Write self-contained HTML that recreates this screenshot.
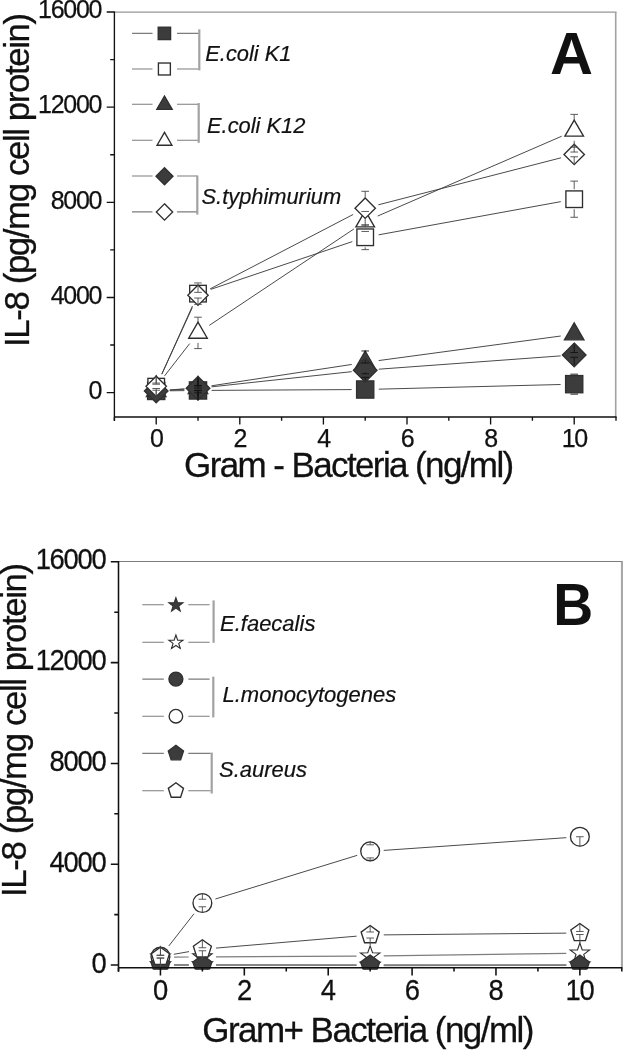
<!DOCTYPE html>
<html><head><meta charset="utf-8"><title>IL-8 figure</title>
<style>html,body{margin:0;padding:0;background:#fff}svg{display:block}</style>
</head><body>
<svg width="623" height="1050" viewBox="0 0 623 1050" font-family="'Liberation Sans', sans-serif" fill="#111">
<rect width="623" height="1050" fill="#fff"/>
<path d="M114.4 12.1H616.5" stroke="#969696" stroke-width="1.3" fill="none"/>
<path d="M615.7 12V417" stroke="#a2a2a2" stroke-width="1.6" fill="none"/>
<clipPath id="ca"><rect x="114.4" y="12" width="501.6" height="406.6"/></clipPath>
<g clip-path="url(#ca)">
<line x1="169.80" y1="390.78" x2="184.40" y2="390.61" stroke="#404040" stroke-width="0.95"/>
<line x1="211.60" y1="390.38" x2="351.60" y2="389.59" stroke="#404040" stroke-width="0.95"/>
<line x1="378.80" y1="389.16" x2="560.60" y2="384.50" stroke="#404040" stroke-width="0.95"/>
<rect x="147.60" y="382.33" width="17.20" height="17.20" fill="#3c3c3c" stroke="#303030" stroke-width="1.35"/>
<rect x="189.40" y="381.86" width="17.20" height="17.20" fill="#3c3c3c" stroke="#303030" stroke-width="1.35"/>
<rect x="356.60" y="380.91" width="17.20" height="17.20" fill="#3c3c3c" stroke="#303030" stroke-width="1.35"/>
<rect x="565.60" y="375.56" width="17.20" height="17.20" fill="#3c3c3c" stroke="#303030" stroke-width="1.35"/>
<line x1="161.77" y1="374.25" x2="192.43" y2="306.05" stroke="#404040" stroke-width="0.95"/>
<line x1="210.89" y1="289.30" x2="352.31" y2="241.61" stroke="#404040" stroke-width="0.95"/>
<line x1="378.58" y1="234.83" x2="560.82" y2="201.64" stroke="#404040" stroke-width="0.95"/>
<rect x="147.90" y="378.35" width="16.60" height="16.60" fill="#fff" stroke="#2e2e2e" stroke-width="1.35"/>
<rect x="189.70" y="285.34" width="16.60" height="16.60" fill="#fff" stroke="#2e2e2e" stroke-width="1.35"/>
<rect x="356.90" y="228.97" width="16.60" height="16.60" fill="#fff" stroke="#2e2e2e" stroke-width="1.35"/>
<rect x="565.90" y="190.91" width="16.60" height="16.60" fill="#fff" stroke="#2e2e2e" stroke-width="1.35"/>
<line x1="169.76" y1="389.93" x2="184.44" y2="388.85" stroke="#404040" stroke-width="0.95"/>
<line x1="211.45" y1="385.80" x2="351.75" y2="364.44" stroke="#404040" stroke-width="0.95"/>
<line x1="378.68" y1="360.57" x2="560.72" y2="336.02" stroke="#404040" stroke-width="0.95"/>
<polygon points="156.20,379.68 146.45,396.56 165.95,396.56" fill="#3c3c3c" stroke="#303030" stroke-width="1.35" stroke-linejoin="miter"/>
<polygon points="198.00,376.58 188.25,393.47 207.75,393.47" fill="#3c3c3c" stroke="#303030" stroke-width="1.35" stroke-linejoin="miter"/>
<polygon points="365.20,351.13 355.45,368.02 374.95,368.02" fill="#3c3c3c" stroke="#303030" stroke-width="1.35" stroke-linejoin="miter"/>
<polygon points="574.20,322.94 564.45,339.83 583.95,339.83" fill="#3c3c3c" stroke="#303030" stroke-width="1.35" stroke-linejoin="miter"/>
<line x1="164.55" y1="375.92" x2="189.65" y2="343.63" stroke="#404040" stroke-width="0.95"/>
<line x1="209.32" y1="325.35" x2="353.88" y2="228.99" stroke="#404040" stroke-width="0.95"/>
<line x1="377.68" y1="216.04" x2="561.72" y2="136.21" stroke="#404040" stroke-width="0.95"/>
<polygon points="156.20,375.91 146.90,392.02 165.50,392.02" fill="#fff" stroke="#2e2e2e" stroke-width="1.35" stroke-linejoin="miter"/>
<polygon points="198.00,322.15 188.70,338.26 207.30,338.26" fill="#fff" stroke="#2e2e2e" stroke-width="1.35" stroke-linejoin="miter"/>
<polygon points="365.20,210.71 355.90,226.82 374.50,226.82" fill="#fff" stroke="#2e2e2e" stroke-width="1.35" stroke-linejoin="miter"/>
<polygon points="574.20,120.06 564.90,136.16 583.50,136.16" fill="#fff" stroke="#2e2e2e" stroke-width="1.35" stroke-linejoin="miter"/>
<line x1="169.77" y1="390.13" x2="184.43" y2="389.19" stroke="#404040" stroke-width="0.95"/>
<line x1="211.52" y1="386.85" x2="351.68" y2="371.66" stroke="#404040" stroke-width="0.95"/>
<line x1="378.76" y1="369.20" x2="560.64" y2="355.89" stroke="#404040" stroke-width="0.95"/>
<polygon points="156.20,379.21 168.00,391.01 156.20,402.81 144.40,391.01" fill="#3c3c3c" stroke="#303030" stroke-width="1.35" stroke-linejoin="miter"/>
<polygon points="198.00,376.52 209.80,388.32 198.00,400.12 186.20,388.32" fill="#3c3c3c" stroke="#303030" stroke-width="1.35" stroke-linejoin="miter"/>
<polygon points="365.20,358.39 377.00,370.19 365.20,381.99 353.40,370.19" fill="#3c3c3c" stroke="#303030" stroke-width="1.35" stroke-linejoin="miter"/>
<polygon points="574.20,343.10 586.00,354.90 574.20,366.70 562.40,354.90" fill="#3c3c3c" stroke="#303030" stroke-width="1.35" stroke-linejoin="miter"/>
<line x1="161.87" y1="374.00" x2="192.33" y2="307.55" stroke="#404040" stroke-width="0.95"/>
<line x1="210.06" y1="288.91" x2="353.14" y2="214.48" stroke="#404040" stroke-width="0.95"/>
<line x1="378.37" y1="204.81" x2="561.03" y2="157.81" stroke="#404040" stroke-width="0.95"/>
<polygon points="156.20,376.17 166.40,386.37 156.20,396.57 146.00,386.37" fill="#fff" stroke="#2e2e2e" stroke-width="1.35" stroke-linejoin="miter"/>
<polygon points="198.00,284.99 208.20,295.19 198.00,305.39 187.80,295.19" fill="#fff" stroke="#2e2e2e" stroke-width="1.35" stroke-linejoin="miter"/>
<polygon points="365.20,198.00 375.40,208.20 365.20,218.40 355.00,208.20" fill="#fff" stroke="#2e2e2e" stroke-width="1.35" stroke-linejoin="miter"/>
<polygon points="574.20,144.22 584.40,154.42 574.20,164.62 564.00,154.42" fill="#fff" stroke="#2e2e2e" stroke-width="1.35" stroke-linejoin="miter"/>
<path d="M198.00 380.46V388.08M194.20 388.08H201.80M198.00 400.46V392.84M194.20 392.84H201.80" stroke="#111" stroke-width="0.9" fill="none"/>
<path d="M574.20 374.16V374.16M570.40 374.16H578.00M574.20 394.16V394.15M570.40 394.15H578.00" stroke="#111" stroke-width="0.9" fill="none"/>
<path d="M156.20 376.65V383.09M152.40 383.09H160.00M156.20 396.65V390.22M152.40 390.22H160.00" stroke="#4a4a4a" stroke-width="0.9" fill="none"/>
<path d="M198.00 283.64V282.94M194.20 282.94H201.80M198.00 303.64V304.35M194.20 304.35H201.80" stroke="#4a4a4a" stroke-width="0.9" fill="none"/>
<path d="M365.20 227.27V224.90M361.40 224.90H369.00M365.20 247.27V249.64M361.40 249.64H369.00" stroke="#4a4a4a" stroke-width="0.9" fill="none"/>
<path d="M574.20 189.21V181.13M570.40 181.13H578.00M574.20 209.21V217.29M570.40 217.29H578.00" stroke="#4a4a4a" stroke-width="0.9" fill="none"/>
<path d="M198.00 377.84V385.46M194.20 385.46H201.80M198.00 397.84V390.22M194.20 390.22H201.80" stroke="#111" stroke-width="0.9" fill="none"/>
<path d="M365.20 352.39V350.97M361.40 350.97H369.00M365.20 372.39V373.81M361.40 373.81H369.00" stroke="#111" stroke-width="0.9" fill="none"/>
<path d="M198.00 322.89V317.19M194.20 317.19H201.80M198.00 342.89V348.59M194.20 348.59H201.80" stroke="#4a4a4a" stroke-width="0.9" fill="none"/>
<path d="M365.20 211.45V211.46M361.40 211.46H369.00M365.20 231.45V231.44M361.40 231.44H369.00" stroke="#4a4a4a" stroke-width="0.9" fill="none"/>
<path d="M574.20 120.79V114.38M570.40 114.38H578.00M574.20 140.79V147.21M570.40 147.21H578.00" stroke="#4a4a4a" stroke-width="0.9" fill="none"/>
<path d="M198.00 378.32V385.94M194.20 385.94H201.80M198.00 398.32V390.70M194.20 390.70H201.80" stroke="#111" stroke-width="0.9" fill="none"/>
<path d="M365.20 360.19V363.06M361.40 363.06H369.00M365.20 380.19V377.33M361.40 377.33H369.00" stroke="#111" stroke-width="0.9" fill="none"/>
<path d="M574.20 344.90V352.52M570.40 352.52H578.00M574.20 364.90V357.28M570.40 357.28H578.00" stroke="#111" stroke-width="0.9" fill="none"/>
<path d="M156.20 376.37V384.23M152.40 384.23H160.00M156.20 396.37V388.51M152.40 388.51H160.00" stroke="#4a4a4a" stroke-width="0.9" fill="none"/>
<path d="M198.00 285.19V292.34M194.20 292.34H201.80M198.00 305.19V298.04M194.20 298.04H201.80" stroke="#4a4a4a" stroke-width="0.9" fill="none"/>
<path d="M365.20 198.20V191.31M361.40 191.31H369.00M365.20 218.20V225.09M361.40 225.09H369.00" stroke="#4a4a4a" stroke-width="0.9" fill="none"/>
<path d="M574.20 144.42V152.04M570.40 152.04H578.00M574.20 164.42V156.79M570.40 156.79H578.00" stroke="#4a4a4a" stroke-width="0.9" fill="none"/>
</g>
<path d="M114.4 11.4V421M113.80000000000001 417H616.6" stroke="#111" stroke-width="1.35" fill="none"/>
<path d="M106.70 392.60H114.4M110.20 345.03H114.4M106.70 297.45H114.4M110.20 249.88H114.4M106.70 202.30H114.4M110.20 154.73H114.4M106.70 107.15H114.4M110.20 59.58H114.4M106.70 12.00H114.4M114.40 417V420.80M156.20 417V424.60M198.00 417V420.80M239.80 417V424.60M281.60 417V420.80M323.40 417V424.60M365.20 417V420.80M407.00 417V424.60M448.80 417V420.80M490.60 417V424.60M532.40 417V420.80M574.20 417V424.60M616.00 417V420.80" stroke="#111" stroke-width="1.35" fill="none"/>
<text transform="translate(88.60 398.80)" font-size="25.0" letter-spacing="-1.250" stroke="#111" stroke-width="0.25">0</text>
<text transform="translate(50.65 303.65)" font-size="25.0" letter-spacing="-1.250" stroke="#111" stroke-width="0.25">4000</text>
<text transform="translate(50.65 208.50)" font-size="25.0" letter-spacing="-1.250" stroke="#111" stroke-width="0.25">8000</text>
<text transform="translate(38.00 113.35)" font-size="25.0" letter-spacing="-1.250" stroke="#111" stroke-width="0.25">12000</text>
<text transform="translate(38.00 18.20)" font-size="25.0" letter-spacing="-1.250" stroke="#111" stroke-width="0.25">16000</text>
<text transform="translate(149.95 447.00)" font-size="25.0" letter-spacing="-1.250" stroke="#111" stroke-width="0.25">0</text>
<text transform="translate(233.55 447.00)" font-size="25.0" letter-spacing="-1.250" stroke="#111" stroke-width="0.25">2</text>
<text transform="translate(317.15 447.00)" font-size="25.0" letter-spacing="-1.250" stroke="#111" stroke-width="0.25">4</text>
<text transform="translate(400.75 447.00)" font-size="25.0" letter-spacing="-1.250" stroke="#111" stroke-width="0.25">6</text>
<text transform="translate(484.35 447.00)" font-size="25.0" letter-spacing="-1.250" stroke="#111" stroke-width="0.25">8</text>
<text transform="translate(561.63 447.00)" font-size="25.0" letter-spacing="-1.250" stroke="#111" stroke-width="0.25">10</text>
<text transform="translate(184.10 476.60) scale(0.9830 1)" font-size="35.60528992878942" letter-spacing="-1.638" stroke="#111" stroke-width="0.3">Gram - Bacteria (ng/ml)</text>
<text transform="translate(29.10 347.00) rotate(-90)" font-size="34.8" letter-spacing="-1.390" stroke="#111" stroke-width="0.3">IL-8 (pg/mg cell protein)</text>
<text transform="translate(549.9 73.8) scale(1.0 1)" font-size="59.5" font-weight="bold">A</text>
<path d="M132 33.4H152.5M177 33.4H198.5" stroke="#7c7c7c" stroke-width="1.1"/>
<rect x="158.21" y="27.21" width="12.38" height="12.38" fill="#3c3c3c" stroke="#303030" stroke-width="1.35"/>
<path d="M132 69.0H152.5M177 69.0H198.5" stroke="#7c7c7c" stroke-width="1.1"/>
<rect x="158.42" y="63.02" width="11.95" height="11.95" fill="#fff" stroke="#2e2e2e" stroke-width="1.35"/>
<path d="M132 104.2H152.5M177 104.2H198" stroke="#7c7c7c" stroke-width="1.1"/>
<polygon points="164.50,96.01 156.80,109.35 172.20,109.35" fill="#3c3c3c" stroke="#303030" stroke-width="1.35" stroke-linejoin="miter"/>
<path d="M132 140.2H152.5M177 140.2H198" stroke="#7c7c7c" stroke-width="1.1"/>
<polygon points="164.50,132.31 157.06,145.20 171.94,145.20" fill="#fff" stroke="#2e2e2e" stroke-width="1.35" stroke-linejoin="miter"/>
<path d="M132 176.0H152.5M177 176.0H197.5" stroke="#7c7c7c" stroke-width="1.1"/>
<polygon points="164.50,167.70 173.00,176.20 164.50,184.70 156.00,176.20" fill="#3c3c3c" stroke="#303030" stroke-width="1.35" stroke-linejoin="miter"/>
<path d="M132 211.9H152.5M177 211.9H197.5" stroke="#7c7c7c" stroke-width="1.1"/>
<polygon points="164.50,203.84 172.66,212.00 164.50,220.16 156.34,212.00" fill="#fff" stroke="#2e2e2e" stroke-width="1.35" stroke-linejoin="miter"/>
<path d="M199.3 29.4V70.4" stroke="#a2a2a2" stroke-width="2.2"/>
<path d="M198.7 103V142.8" stroke="#a2a2a2" stroke-width="2.2"/>
<path d="M197.3 175.6V214.6" stroke="#a2a2a2" stroke-width="2.2"/>
<text x="205.3" y="60.6" font-size="21.85" font-style="italic" stroke="#111" stroke-width="0.2">E.coli K1</text>
<text x="207.0" y="133.1" font-size="21.85" font-style="italic" stroke="#111" stroke-width="0.2">E.coli K12</text>
<text x="201.5" y="203.6" font-size="21.85" font-style="italic" stroke="#111" stroke-width="0.2">S.typhimurium</text>
<path d="M118.5 561.5H622.8" stroke="#7c7c7c" stroke-width="1.1" fill="none"/>
<path d="M622.0 561.5V967.8" stroke="#a8a8a8" stroke-width="2.2" fill="none"/>
<clipPath id="cb"><rect x="118.5" y="561.5" width="503.29999999999995" height="407.9"/></clipPath>
<g clip-path="url(#cb)">
<line x1="174.04" y1="965.00" x2="188.78" y2="965.00" stroke="#7d7d7d" stroke-width="1.3"/>
<line x1="215.98" y1="965.04" x2="356.55" y2="965.46" stroke="#7d7d7d" stroke-width="1.3"/>
<line x1="383.75" y1="965.49" x2="566.26" y2="965.27" stroke="#7d7d7d" stroke-width="1.3"/>
<polygon points="160.44,954.40 162.93,961.57 170.52,961.72 164.47,966.31 166.67,973.58 160.44,969.24 154.21,973.58 156.41,966.31 150.36,961.72 157.95,961.57" fill="#3c3c3c" stroke="#303030" stroke-width="1.1" stroke-linejoin="miter"/>
<polygon points="202.38,954.40 204.88,961.57 212.46,961.72 206.42,966.31 208.61,973.58 202.38,969.24 196.15,973.58 198.35,966.31 192.30,961.72 199.89,961.57" fill="#3c3c3c" stroke="#303030" stroke-width="1.1" stroke-linejoin="miter"/>
<polygon points="370.15,954.90 372.64,962.07 380.23,962.23 374.18,966.81 376.38,974.08 370.15,969.74 363.92,974.08 366.12,966.81 360.07,962.23 367.66,962.07" fill="#3c3c3c" stroke="#303030" stroke-width="1.1" stroke-linejoin="miter"/>
<polygon points="579.86,954.65 582.35,961.82 589.94,961.98 583.89,966.56 586.09,973.83 579.86,969.49 573.63,973.83 575.83,966.56 569.78,961.98 577.37,961.82" fill="#3c3c3c" stroke="#303030" stroke-width="1.1" stroke-linejoin="miter"/>
<line x1="174.04" y1="957.11" x2="188.78" y2="957.02" stroke="#7d7d7d" stroke-width="1.2"/>
<line x1="215.98" y1="956.86" x2="356.55" y2="956.13" stroke="#7d7d7d" stroke-width="1.2"/>
<line x1="383.75" y1="955.87" x2="566.26" y2="953.34" stroke="#7d7d7d" stroke-width="1.2"/>
<polygon points="160.44,946.99 162.84,953.89 170.14,954.04 164.32,958.45 166.44,965.44 160.44,961.27 154.45,965.44 156.56,958.45 150.74,954.04 158.04,953.89" fill="#fff" stroke="#2e2e2e" stroke-width="1.1" stroke-linejoin="miter"/>
<polygon points="202.38,946.74 204.78,953.64 212.08,953.78 206.26,958.20 208.38,965.19 202.38,961.02 196.39,965.19 198.50,958.20 192.68,953.78 199.99,953.64" fill="#fff" stroke="#2e2e2e" stroke-width="1.1" stroke-linejoin="miter"/>
<polygon points="370.15,945.85 372.55,952.75 379.85,952.90 374.03,957.31 376.15,964.31 370.15,960.13 364.15,964.31 366.27,957.31 360.45,952.90 367.75,952.75" fill="#fff" stroke="#2e2e2e" stroke-width="1.1" stroke-linejoin="miter"/>
<polygon points="579.86,942.96 582.26,949.86 589.56,950.00 583.74,954.42 585.85,961.41 579.86,957.24 573.86,961.41 575.98,954.42 570.16,950.00 577.46,949.86" fill="#fff" stroke="#2e2e2e" stroke-width="1.1" stroke-linejoin="miter"/>
<line x1="174.04" y1="964.92" x2="188.78" y2="964.83" stroke="#7d7d7d" stroke-width="1.0"/>
<line x1="215.98" y1="964.77" x2="356.55" y2="964.98" stroke="#7d7d7d" stroke-width="1.0"/>
<line x1="383.75" y1="965.00" x2="566.26" y2="965.00" stroke="#7d7d7d" stroke-width="1.0"/>
<circle cx="160.44" cy="965.00" r="7.60" fill="#3c3c3c" stroke="#303030" stroke-width="1.35"/>
<circle cx="202.38" cy="964.75" r="7.60" fill="#3c3c3c" stroke="#303030" stroke-width="1.35"/>
<circle cx="370.15" cy="965.00" r="7.60" fill="#3c3c3c" stroke="#303030" stroke-width="1.35"/>
<circle cx="579.86" cy="965.00" r="7.60" fill="#3c3c3c" stroke="#303030" stroke-width="1.35"/>
<line x1="168.82" y1="945.97" x2="194.01" y2="913.72" stroke="#404040" stroke-width="0.95"/>
<line x1="215.38" y1="899.01" x2="357.15" y2="855.35" stroke="#404040" stroke-width="0.95"/>
<line x1="383.72" y1="850.40" x2="566.29" y2="837.68" stroke="#404040" stroke-width="0.95"/>
<circle cx="160.44" cy="956.68" r="9.40" fill="#fff" stroke="#2e2e2e" stroke-width="1.35"/>
<circle cx="202.38" cy="903.01" r="9.40" fill="#fff" stroke="#2e2e2e" stroke-width="1.35"/>
<circle cx="370.15" cy="851.35" r="9.40" fill="#fff" stroke="#2e2e2e" stroke-width="1.35"/>
<circle cx="579.86" cy="836.73" r="9.40" fill="#fff" stroke="#2e2e2e" stroke-width="1.35"/>
<line x1="174.04" y1="965.00" x2="188.78" y2="965.00" stroke="#7d7d7d" stroke-width="1.0"/>
<line x1="215.98" y1="965.00" x2="356.55" y2="965.00" stroke="#7d7d7d" stroke-width="1.0"/>
<line x1="383.75" y1="965.00" x2="566.26" y2="965.00" stroke="#7d7d7d" stroke-width="1.0"/>
<polygon points="160.44,955.00 169.95,961.91 166.32,973.09 154.56,973.09 150.93,961.91" fill="#3c3c3c" stroke="#303030" stroke-width="1.35" stroke-linejoin="miter"/>
<polygon points="202.38,955.00 211.89,961.91 208.26,973.09 196.51,973.09 192.87,961.91" fill="#3c3c3c" stroke="#303030" stroke-width="1.35" stroke-linejoin="miter"/>
<polygon points="370.15,955.00 379.66,961.91 376.03,973.09 364.27,973.09 360.64,961.91" fill="#3c3c3c" stroke="#303030" stroke-width="1.35" stroke-linejoin="miter"/>
<polygon points="579.86,955.00 589.37,961.91 585.74,973.09 573.98,973.09 570.35,961.91" fill="#3c3c3c" stroke="#303030" stroke-width="1.35" stroke-linejoin="miter"/>
<line x1="173.83" y1="954.31" x2="188.99" y2="951.62" stroke="#404040" stroke-width="0.95"/>
<line x1="215.93" y1="948.10" x2="356.60" y2="936.16" stroke="#404040" stroke-width="0.95"/>
<line x1="383.75" y1="934.88" x2="566.26" y2="933.13" stroke="#404040" stroke-width="0.95"/>
<polygon points="160.44,947.18 169.48,953.75 166.03,964.37 154.86,964.37 151.41,953.75" fill="#fff" stroke="#2e2e2e" stroke-width="1.35" stroke-linejoin="miter"/>
<polygon points="202.38,939.75 211.42,946.31 207.97,956.94 196.80,956.94 193.35,946.31" fill="#fff" stroke="#2e2e2e" stroke-width="1.35" stroke-linejoin="miter"/>
<polygon points="370.15,925.51 379.19,932.08 375.73,942.70 364.57,942.70 361.11,932.08" fill="#fff" stroke="#2e2e2e" stroke-width="1.35" stroke-linejoin="miter"/>
<polygon points="579.86,923.50 588.89,930.06 585.44,940.68 574.27,940.68 570.82,930.06" fill="#fff" stroke="#2e2e2e" stroke-width="1.35" stroke-linejoin="miter"/>
<path d="M160.44 946.68V955.17M156.64 955.17H164.24M160.44 966.68V958.20M156.64 958.20H164.24" stroke="#4a4a4a" stroke-width="0.9" fill="none"/>
<path d="M202.38 893.01V899.23M198.58 899.23H206.18M202.38 913.01V906.79M198.58 906.79H206.18" stroke="#4a4a4a" stroke-width="0.9" fill="none"/>
<path d="M370.15 841.35V844.80M366.35 844.80H373.95M370.15 861.35V857.90M366.35 857.90H373.95" stroke="#4a4a4a" stroke-width="0.9" fill="none"/>
<path d="M579.86 846.73V836.73M576.06 836.73H583.66" stroke="#4a4a4a" stroke-width="0.9" fill="none"/>
<path d="M160.44 946.68V955.42M156.64 955.42H164.24M160.44 966.68V957.94M156.64 957.94H164.24" stroke="#4a4a4a" stroke-width="0.9" fill="none"/>
<path d="M202.38 939.25V947.74M198.58 947.74H206.18M202.38 959.25V950.76M198.58 950.76H206.18" stroke="#4a4a4a" stroke-width="0.9" fill="none"/>
<path d="M370.15 925.01V931.99M366.35 931.99H373.95M370.15 945.01V938.04M366.35 938.04H373.95" stroke="#4a4a4a" stroke-width="0.9" fill="none"/>
<path d="M579.86 923.00V931.48M576.06 931.48H583.66M579.86 943.00V934.51M576.06 934.51H583.66" stroke="#4a4a4a" stroke-width="0.9" fill="none"/>
</g>
<path d="M118.5 560.9V971.8M117.9 967.8H622.4" stroke="#111" stroke-width="1.55" fill="none"/>
<path d="M110.80 965.00H118.5M114.30 914.60H118.5M110.80 864.20H118.5M114.30 813.80H118.5M110.80 763.40H118.5M114.30 713.00H118.5M110.80 662.60H118.5M114.30 612.20H118.5M110.80 561.80H118.5M118.50 967.8V971.60M160.44 967.8V975.40M202.38 967.8V971.60M244.32 967.8V975.40M286.27 967.8V971.60M328.21 967.8V975.40M370.15 967.8V971.60M412.09 967.8V975.40M454.03 967.8V971.60M495.97 967.8V975.40M537.92 967.8V971.60M579.86 967.8V975.40M621.80 967.8V971.60" stroke="#111" stroke-width="1.55" fill="none"/>
<text transform="translate(91.57 972.50) scale(0.9450 1)" font-size="28.994708994708994" letter-spacing="-1.323" stroke="#111" stroke-width="0.25">0</text>
<text transform="translate(49.61 871.70) scale(0.9450 1)" font-size="28.994708994708994" letter-spacing="-1.323" stroke="#111" stroke-width="0.25">4000</text>
<text transform="translate(49.61 770.90) scale(0.9450 1)" font-size="28.994708994708994" letter-spacing="-1.323" stroke="#111" stroke-width="0.25">8000</text>
<text transform="translate(35.63 670.10) scale(0.9450 1)" font-size="28.994708994708994" letter-spacing="-1.323" stroke="#111" stroke-width="0.25">12000</text>
<text transform="translate(35.63 569.30) scale(0.9450 1)" font-size="28.994708994708994" letter-spacing="-1.323" stroke="#111" stroke-width="0.25">16000</text>
<text transform="translate(153.02 999.60) scale(0.9450 1)" font-size="28.994708994708994" letter-spacing="-1.323" stroke="#111" stroke-width="0.25">0</text>
<text transform="translate(236.91 999.60) scale(0.9450 1)" font-size="28.994708994708994" letter-spacing="-1.323" stroke="#111" stroke-width="0.25">2</text>
<text transform="translate(320.79 999.60) scale(0.9450 1)" font-size="28.994708994708994" letter-spacing="-1.323" stroke="#111" stroke-width="0.25">4</text>
<text transform="translate(404.67 999.60) scale(0.9450 1)" font-size="28.994708994708994" letter-spacing="-1.323" stroke="#111" stroke-width="0.25">6</text>
<text transform="translate(488.56 999.60) scale(0.9450 1)" font-size="28.994708994708994" letter-spacing="-1.323" stroke="#111" stroke-width="0.25">8</text>
<text transform="translate(565.45 999.60) scale(0.9450 1)" font-size="28.994708994708994" letter-spacing="-1.323" stroke="#111" stroke-width="0.25">10</text>
<text transform="translate(202.20 1041.50) scale(0.9830 1)" font-size="35.60528992878942" letter-spacing="-1.567" stroke="#111" stroke-width="0.3">Gram+ Bacteria (ng/ml)</text>
<text transform="translate(25.80 897.00) rotate(-90)" font-size="34.8" letter-spacing="-1.390" stroke="#111" stroke-width="0.3">IL-8 (pg/mg cell protein)</text>
<text transform="translate(553.2 624.6) scale(0.93 1)" font-size="59.5" font-weight="bold">B</text>
<path d="M142.3 604.8H163.8M188.3 604.8H209.6" stroke="#7c7c7c" stroke-width="1.1"/>
<polygon points="175.90,597.68 177.64,602.70 182.96,602.81 178.72,606.02 180.26,611.10 175.90,608.07 171.54,611.10 173.08,606.02 168.84,602.81 174.16,602.70" fill="#3c3c3c" stroke="#303030" stroke-width="1.1" stroke-linejoin="miter"/>
<path d="M142.3 642.2H163.8M188.3 642.2H209.6" stroke="#7c7c7c" stroke-width="1.1"/>
<polygon points="175.90,635.05 177.65,640.09 182.98,640.20 178.73,643.42 180.28,648.52 175.90,645.48 171.52,648.52 173.07,643.42 168.82,640.20 174.15,640.09" fill="#fff" stroke="#2e2e2e" stroke-width="1.1" stroke-linejoin="miter"/>
<path d="M142.3 679.1H163.8M188.3 679.1H209.6" stroke="#7c7c7c" stroke-width="1.1"/>
<circle cx="175.90" cy="679.10" r="6.99" fill="#3c3c3c" stroke="#303030" stroke-width="1.35"/>
<path d="M142.3 716.2H163.8M188.3 716.2H209.6" stroke="#7c7c7c" stroke-width="1.1"/>
<circle cx="175.90" cy="716.20" r="6.77" fill="#fff" stroke="#2e2e2e" stroke-width="1.35"/>
<path d="M142.3 753.4H163.8M188.3 753.4H210.6" stroke="#7c7c7c" stroke-width="1.1"/>
<polygon points="175.90,745.40 183.51,750.93 180.60,759.87 171.20,759.87 168.29,750.93" fill="#3c3c3c" stroke="#303030" stroke-width="1.35" stroke-linejoin="miter"/>
<path d="M142.3 790.8H163.8M188.3 790.8H210.6" stroke="#7c7c7c" stroke-width="1.1"/>
<polygon points="175.90,782.82 183.49,788.33 180.59,797.26 171.21,797.26 168.31,788.33" fill="#fff" stroke="#2e2e2e" stroke-width="1.35" stroke-linejoin="miter"/>
<path d="M213.6 600.4V642.8" stroke="#a2a2a2" stroke-width="2.2"/>
<path d="M213.3 676.7V717.4" stroke="#a2a2a2" stroke-width="2.2"/>
<path d="M211.7 752.6V793.5" stroke="#a2a2a2" stroke-width="2.2"/>
<text x="220" y="630.8" font-size="22" font-style="italic" stroke="#111" stroke-width="0.2">E.faecalis</text>
<text x="222.5" y="702.2" font-size="22" font-style="italic" stroke="#111" stroke-width="0.2">L.monocytogenes</text>
<text x="219" y="777.0" font-size="22" font-style="italic" stroke="#111" stroke-width="0.2">S.aureus</text>
</svg>
</body></html>
